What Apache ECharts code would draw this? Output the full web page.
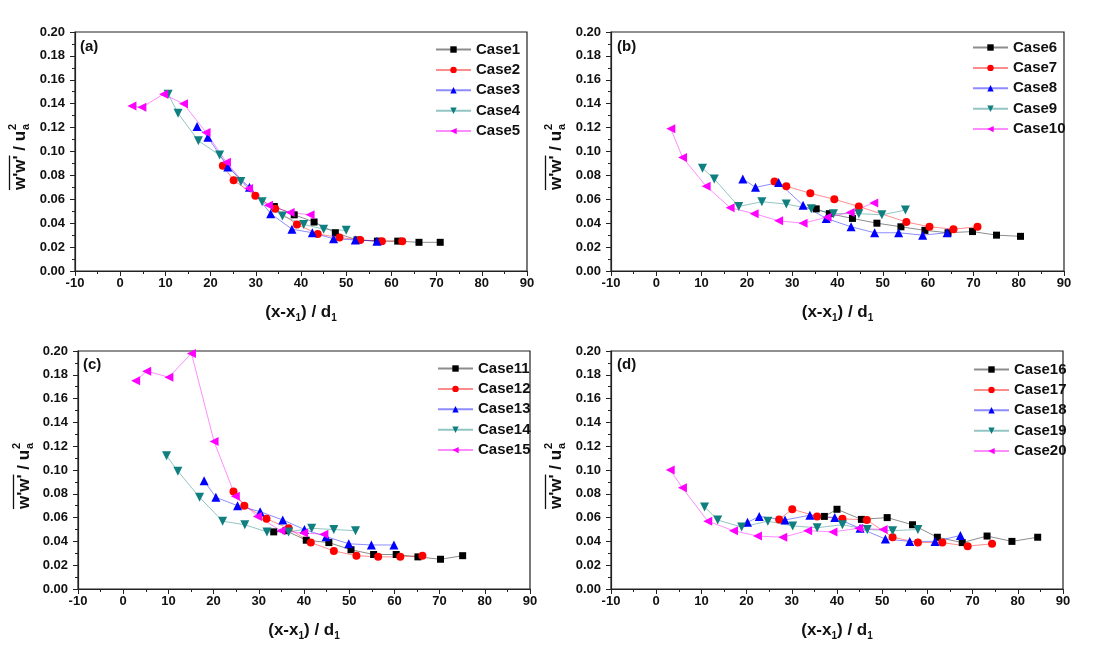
<!DOCTYPE html>
<html><head><meta charset="utf-8">
<script src="https://cdn.jsdelivr.net/npm/echarts@6/dist/echarts.min.js"></script>
<style>html,body{margin:0;padding:0;background:#fff}#c{width:1112px;height:659px}</style>
</head><body><div id="c"></div><script>
// ---- data: [x, y] pairs ----
const case1 = [[34.1,0.054],[38.5,0.047],[42.9,0.041],[47.6,0.032],[52.4,0.026],[56.9,0.025],[61.4,0.025],[66.1,0.024],[70.8,0.024]];
const case2 = [[22.7,0.088],[25.1,0.076],[29.9,0.063],[34.3,0.052],[39.1,0.039],[43.7,0.031],[48.5,0.028],[53.1,0.026],[57.9,0.025],[62.4,0.025]];
const case3 = [[17.0,0.121],[19.4,0.112],[23.8,0.087],[28.6,0.070],[33.3,0.048],[38.0,0.035],[42.5,0.032],[47.2,0.027],[52.0,0.026],[56.8,0.025]];
const case4 = [[10.6,0.148],[12.8,0.132],[17.3,0.109],[22.0,0.097],[26.7,0.075],[31.4,0.058],[35.9,0.046],[40.6,0.039],[45.0,0.035],[50.0,0.034]];
const case5 = [[2.6,0.138],[4.8,0.137],[9.6,0.148],[14.0,0.140],[19.0,0.116],[23.5,0.091],[28.4,0.069],[32.8,0.055],[37.6,0.049],[42.0,0.047]];

const case6 = [[35.3,0.052],[38.2,0.048],[43.3,0.044],[48.7,0.040],[54.0,0.037],[59.3,0.034],[64.4,0.032],[69.8,0.033],[75.1,0.030],[80.4,0.029]];
const case7 = [[26.1,0.075],[28.7,0.071],[34.0,0.065],[39.3,0.060],[44.7,0.054],[55.2,0.041],[60.3,0.037],[65.6,0.035],[70.9,0.037]];
const case8 = [[19.1,0.077],[21.9,0.070],[27.0,0.074],[32.4,0.055],[37.5,0.044],[43.0,0.037],[48.2,0.032],[53.5,0.032],[58.8,0.030],[64.2,0.032]];
const case9 = [[10.2,0.086],[12.8,0.077],[18.2,0.054],[23.3,0.058],[28.7,0.056],[34.2,0.052],[39.1,0.048],[44.7,0.048],[49.8,0.047],[55.0,0.051]];
const case10 = [[3.2,0.119],[5.8,0.095],[11.0,0.071],[16.3,0.053],[21.6,0.048],[27.0,0.042],[32.4,0.040],[37.7,0.045],[42.8,0.049],[48.0,0.057]];

const case11 = [[33.3,0.048],[36.0,0.049],[40.5,0.041],[45.5,0.039],[50.4,0.033],[55.4,0.029],[60.4,0.029],[65.2,0.027],[70.2,0.025],[75.1,0.028]];
const case12 = [[24.4,0.082],[26.8,0.070],[31.7,0.059],[36.6,0.051],[41.5,0.039],[46.6,0.032],[51.6,0.028],[56.4,0.027],[61.3,0.027],[66.2,0.028]];
const case13 = [[17.9,0.091],[20.5,0.077],[25.3,0.070],[30.3,0.065],[35.3,0.058],[40.1,0.050],[44.9,0.044],[49.9,0.038],[54.9,0.037],[59.9,0.037]];
const case14 = [[9.6,0.112],[12.1,0.099],[16.9,0.077],[22.0,0.057],[26.9,0.054],[31.8,0.048],[36.6,0.048],[41.7,0.051],[46.6,0.050],[51.4,0.049]];
const case15 = [[2.75,0.175],[5.2,0.183],[10.1,0.178],[15.1,0.198],[20.1,0.124],[24.8,0.078],[29.7,0.061],[34.9,0.049],[39.9,0.047],[44.4,0.046]];

const case16 = [[37.2,0.061],[40.0,0.067],[45.4,0.0585],[51.1,0.060],[56.7,0.054],[62.2,0.0435],[67.7,0.039],[73.2,0.0445],[78.7,0.040],[84.4,0.0435]];
const case17 = [[27.2,0.0585],[30.1,0.067],[35.6,0.061],[41.2,0.059],[46.6,0.058],[52.3,0.0435],[57.9,0.039],[63.3,0.039],[68.9,0.036],[74.3,0.038]];
const case18 = [[20.2,0.056],[22.8,0.061],[28.5,0.058],[34.0,0.062],[39.5,0.060],[45.1,0.051],[50.7,0.042],[56.1,0.040],[61.7,0.040],[67.3,0.045]];
const case19 = [[10.7,0.069],[13.6,0.058],[18.9,0.052],[24.7,0.057],[30.2,0.053],[35.6,0.0515],[41.2,0.054],[46.7,0.050],[52.3,0.049],[57.9,0.050]];
const case20 = [[3.1,0.100],[5.8,0.085],[11.4,0.057],[17.1,0.049],[22.4,0.0445],[28.0,0.0435],[33.5,0.049],[39.1,0.048],[44.8,0.051],[50.2,0.050]];

const panelLabels = ['(a)','(b)','(c)','(d)'];
const caseNames = [
  ['Case1','Case2','Case3','Case4','Case5'],
  ['Case6','Case7','Case8','Case9','Case10'],
  ['Case11','Case12','Case13','Case14','Case15'],
  ['Case16','Case17','Case18','Case19','Case20']
];
const caseData = [
  [case1,case2,case3,case4,case5],
  [case6,case7,case8,case9,case10],
  [case11,case12,case13,case14,case15],
  [case16,case17,case18,case19,case20]
];
const xMin = -10, xMax = 90, xStep = 10;
const yMin = 0, yMax = 0.20, yStep = 0.02;

// ---- styling / layout ----
const FONT = '"Liberation Sans", Arial, sans-serif';
const INK = '#111';
const colors = ['#000000','#ff0000','#0000ff','#0f7f7f','#ff00ff'];
const symbols = ['rect','circle','triangle','triangle','triangle'];
const rotates = [0,0,0,180,90];
const sizes = [7,8,9,9,9];

const layout = [
  {grid:{left:75,top:32,width:452,height:239}, legend:{left:430,top:37}, label:[80,47], ytitle:[20,157]},
  {grid:{left:611,top:32,width:453,height:239}, legend:{left:967,top:35}, label:[617,47], ytitle:[556,157]},
  {grid:{left:78,top:351,width:452,height:238}, legend:{left:432,top:356}, label:[83,365], ytitle:[24,476]},
  {grid:{left:611,top:351,width:452,height:238}, legend:{left:968,top:357}, label:[617,365], ytitle:[556,476]}
];

const grids = [], xAxes = [], yAxes = [], legends = [], series = [], graphics = [];

const cvs = document.createElement('canvas').getContext('2d');
const TF = 'bold 17px "Liberation Sans"';
cvs.font = TF;
const wA = cvs.measureText("w'w'").width;
const wB = cvs.measureText(" / u").width;

function yTitle(cx, cy) {
  const L = wA + wB + 7;
  const x0 = -L/2;
  return {
    type:'group', x:cx, y:cy, rotation:Math.PI/2,
    children:[
      {type:'text', x:x0, y:0, style:{text:"w'w' / u", font:TF, fill:INK, textAlign:'left', textVerticalAlign:'middle', align:'left', verticalAlign:'middle'}},
      {type:'line', shape:{x1:x0, y1:-10.5, x2:x0+wA, y2:-10.5}, style:{stroke:INK, lineWidth:1.3}},
      {type:'text', x:x0+wA+wB+1, y:-7, style:{text:'2', font:'bold 11px "Liberation Sans"', fill:INK, textAlign:'left', textVerticalAlign:'middle', align:'left', verticalAlign:'middle'}},
      {type:'text', x:x0+wA+wB+1, y:6, style:{text:'a', font:'bold 11px "Liberation Sans"', fill:INK, textAlign:'left', textVerticalAlign:'middle', align:'left', verticalAlign:'middle'}}
    ]
  };
}

for (let p = 0; p < 4; p++) {
  const L = layout[p];
  grids.push(Object.assign({show:true, borderColor:'#222', borderWidth:1.2, backgroundColor:'#fff'}, L.grid));
  xAxes.push({
    type:'value', gridIndex:p, min:xMin, max:xMax, interval:xStep,
    axisLine:{show:true, onZero:false, lineStyle:{color:'#222', width:1.2}},
    axisTick:{show:true, inside:false, length:5, lineStyle:{color:'#222'}},
    minorTick:{show:true, splitNumber:2, length:3, lineStyle:{color:'#222'}},
    splitLine:{show:false},
    axisLabel:{margin:6, color:INK, fontFamily:FONT, fontWeight:'bold', fontSize:13},
    name:'{n|(x-x}{s|1}{n|) / d}{s|1}', nameLocation:'middle', nameGap:30,
    nameTextStyle:{rich:{
      n:{fontFamily:FONT, fontWeight:'bold', fontSize:17, lineHeight:22, color:INK},
      s:{fontFamily:FONT, fontWeight:'bold', fontSize:10, lineHeight:22, verticalAlign:'bottom', color:INK}
    }}
  });
  yAxes.push({
    type:'value', gridIndex:p, min:yMin, max:yMax, interval:yStep,
    axisLine:{show:true, onZero:false, lineStyle:{color:'#222', width:1.2}},
    axisTick:{show:true, inside:false, length:5, lineStyle:{color:'#222'}},
    minorTick:{show:true, splitNumber:2, length:3, lineStyle:{color:'#222'}},
    splitLine:{show:false},
    axisLabel:{margin:10, color:INK, fontFamily:FONT, fontWeight:'bold', fontSize:13, formatter:v=>v.toFixed(2)}
  });
  legends.push({
    left:L.legend.left, top:L.legend.top, orient:'vertical',
    itemWidth:35, itemHeight:8, itemGap:5.4,
    data:caseNames[p],
    textStyle:{fontFamily:FONT, fontWeight:'bold', fontSize:15, lineHeight:14, color:INK},
    selectedMode:false
  });
  for (let k = 0; k < 5; k++) {
    series.push({
      name:caseNames[p][k], type:'line', xAxisIndex:p, yAxisIndex:p,
      data:caseData[p][k],
      symbol:symbols[k], symbolSize:sizes[k], symbolRotate:rotates[k],
      showAllSymbol:true,
      itemStyle:{color:colors[k], opacity:1},
      lineStyle:{color:colors[k], width:1, opacity:0.45},
      emphasis:{disabled:true}, animation:false, z:2
    });
  }
  graphics.push({type:'text', x:L.label[0], y:L.label[1], style:{text:panelLabels[p], font:'bold 15px "Liberation Sans"', fill:INK, textAlign:'left', textVerticalAlign:'middle', align:'left', verticalAlign:'middle'}});
  graphics.push(yTitle(L.ytitle[0], L.ytitle[1]));
}

const chart = echarts.init(document.getElementById('c'), null, {renderer:'canvas'});
chart.setOption({
  backgroundColor:'#fff', animation:false,
  grid:grids, xAxis:xAxes, yAxis:yAxes, legend:legends, series:series, graphic:graphics
});
</script></body></html>
